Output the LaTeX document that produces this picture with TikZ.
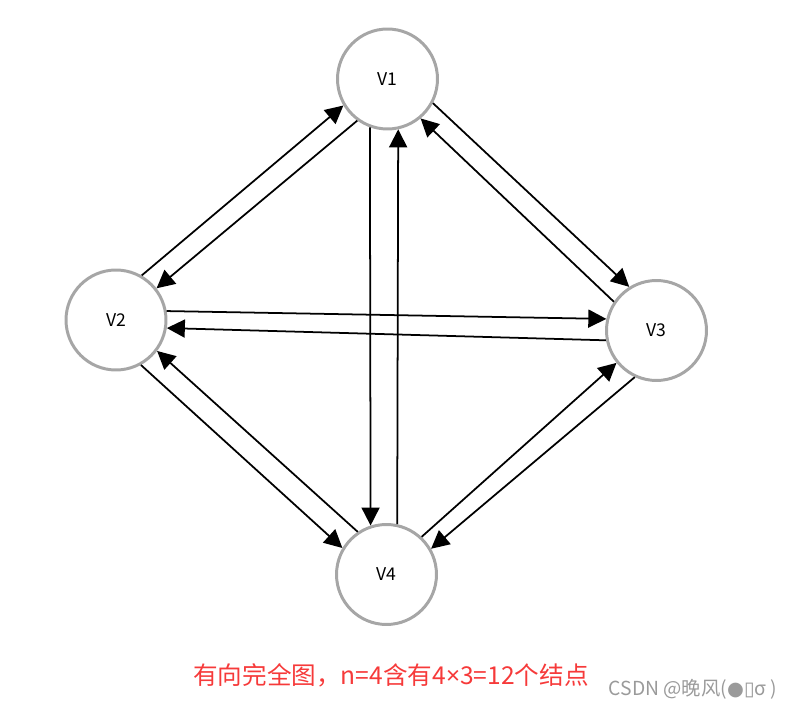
\documentclass[tikz,border=0pt]{standalone}
\usepackage{fontspec}
\setmainfont{Noto Sans CJK SC}
\newfontfamily\symfont{DejaVu Sans}
\newfontfamily\latinfont{Noto Sans}
\usetikzlibrary{arrows.meta}
\definecolor{VertexGrey}{HTML}{A6A6A6}
\definecolor{CaptionRed}{HTML}{F63A3A}
\definecolor{MarkGrey}{HTML}{9A9A9A}

\begin{document}
\begin{tikzpicture}[
    x=0.02cm,y=0.02cm,
    vertex/.style={
      circle,
      draw=VertexGrey,
      line width=1.7pt,
      minimum size=2cm,
      inner sep=0pt,
      font=\fontsize{10pt}{12pt}\selectfont
    },
    link/.style={
      black,
      line width=1pt,
      -{Triangle[length=3.6mm,width=3.6mm]}
    }
  ]
    \useasboundingbox (0,0) rectangle (788,-709);
    \node[vertex] (v1) at (387.5,-79) {V1};
    \node[vertex] (v2) at (116,-320) {V2};
    \node[vertex] (v3) at (656.5,-330.5) {V3};
    \node[vertex] (v4) at (386.5,-574.5) {V4};
    % V1 -- V2
    \draw[link] (v2.60.5) -- (v1.211.7);
    \draw[link] (v1.234.9) -- (v2.38.8);
    % V1 -- V3
    \draw[link] (v1.-28.3) -- (v3.122.9);
    \draw[link] (v3.146.2) -- (v1.-50.1);
    % V2 -- V3
    \draw[link] (v2.10) -- (v3.167.4);
    \draw[link] (v3.191.3) -- (v2.-9.8);
    % V2 -- V4
    \draw[link] (v2.-61) -- (v4.149.9);
    \draw[link] (v4.124.5) -- (v2.-37.6);
    % V3 -- V4
    \draw[link] (v4.47.4) -- (v3.219.2);
    \draw[link] (v3.-115.3) -- (v4.30.6);
    % V1 -- V4
    \draw[link] (v1.-110) -- (v4.108.8);
    \draw[link] (v4.78) -- (v1.-78.8);
    \node[text=CaptionRed,font=\fontsize{14pt}{16pt}\selectfont] (caption)
      at (391,-675) {有向完全图，n=4含有4{\latinfont ×}3=12个结点};
    \node[text=MarkGrey,font=\fontsize{11pt}{13pt}\selectfont] (mark)
      at (693,-689) {CSDN @晚风({\symfont ●▯}σ )};
  \end{tikzpicture}
\end{document}
